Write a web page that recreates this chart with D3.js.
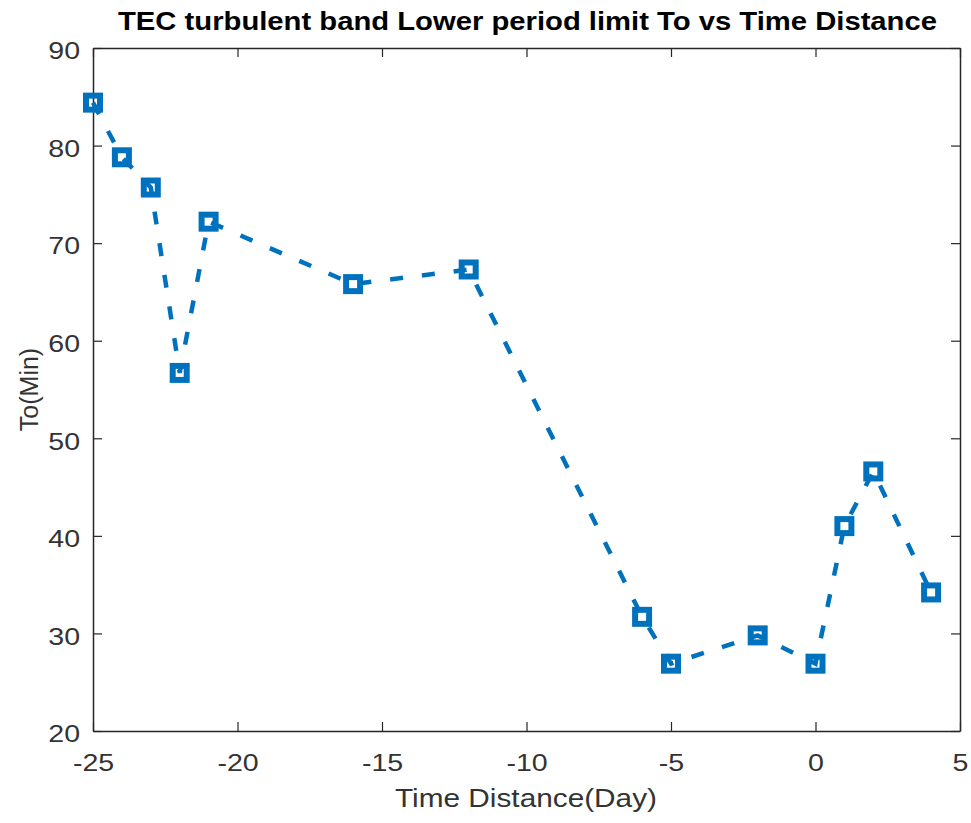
<!DOCTYPE html>
<html>
<head>
<meta charset="utf-8">
<script src="https://cdn.jsdelivr.net/npm/d3@7"></script>
<style>
  body { margin: 0; background: #fff; }
  text { font-family: "Liberation Sans", Arial, sans-serif; }
</style>
</head>
<body>
<div id="chart"></div>
<script>
var days = [-25, -24, -23, -22, -21, -16, -12, -6, -5, -2, 0, 1, 2, 4];
var toMin = [84.4, 78.8, 75.7, 56.7, 72.2, 65.8, 67.3, 31.7, 26.9, 29.8, 26.9, 41.0, 46.6, 34.2];
var xTicks = [-25, -20, -15, -10, -5, 0, 5];
var yTicks = [20, 30, 40, 50, 60, 70, 80, 90];

var margin = { top: 48, right: 11, bottom: 92, left: 93 },
  width = 971 - margin.left - margin.right,
  height = 823 - margin.top - margin.bottom;

// text in the reference is a bit wider than the font
var stretch = 1.19;

var svg = d3
  .select("#chart")
  .append("svg")
  .attr("width", 971)
  .attr("height", 823);

var g = svg
  .append("g")
  .attr("transform", "translate(" + margin.left + "," + margin.top + ")");

var x = d3.scaleLinear().domain([-25, 5]).range([0, width]);
var y = d3.scaleLinear().domain([20, 90]).range([height, 0]);

var axisColor = "#262626";
var fmt = (d) => String(d);

// ticks on all four sides, pointing inward
var xb = g
  .append("g")
  .attr("transform", "translate(0," + height + ")")
  .call(d3.axisBottom(x).tickValues(xTicks).tickSizeInner(-9).tickSizeOuter(0).tickPadding(23).tickFormat(fmt));
var xt = g
  .append("g")
  .call(d3.axisTop(x).tickValues(xTicks).tickSizeInner(-9).tickSizeOuter(0).tickFormat(""));
var yl = g
  .append("g")
  .call(d3.axisLeft(y).tickValues(yTicks).tickSizeInner(-9).tickSizeOuter(0).tickFormat(fmt));
var yr = g
  .append("g")
  .attr("transform", "translate(" + width + ",0)")
  .call(d3.axisRight(y).tickValues(yTicks).tickSizeInner(-9).tickSizeOuter(0).tickFormat(""));

[xb, xt, yl, yr].forEach(function (a) {
  a.select(".domain").attr("stroke", axisColor).attr("stroke-width", 1.5);
  a.selectAll(".tick line").attr("stroke", axisColor).attr("stroke-width", 1.2);
  a.selectAll(".tick text")
    .attr("fill", "#333")
    .attr("transform", "scale(" + stretch + ",1)")
    .style("font-size", "24px")
    .style("font-family", "'Liberation Sans', Arial, sans-serif");
});
yl.selectAll(".tick text")
  .attr("x", -13 / stretch)
  .attr("dy", "0.45em");

var line = d3
  .line()
  .x(function (d, i) { return x(days[i]); })
  .y(function (d) { return y(d); });

g.append("path")
  .datum(toMin)
  .attr("fill", "none")
  .attr("stroke", "#0072BD")
  .attr("stroke-width", 4.5)
  .attr("stroke-dasharray", "13,19")
  .attr("d", line);

var ms = 14;
g.selectAll("rect.marker")
  .data(toMin)
  .enter()
  .append("rect")
  .attr("class", "marker")
  .attr("x", function (d, i) { return x(days[i]) - ms / 2; })
  .attr("y", function (d) { return y(d) - ms / 2; })
  .attr("width", ms)
  .attr("height", ms)
  .attr("fill", "none")
  .attr("stroke", "#0072BD")
  .attr("stroke-width", 6);

svg
  .append("text")
  .attr("x", 118)
  .attr("y", 30)
  .attr("textLength", 819)
  .attr("lengthAdjust", "spacingAndGlyphs")
  .style("font-size", "25px")
  .style("font-weight", "bold")
  .style("fill", "#000")
  .text("TEC turbulent band Lower period limit To vs Time Distance");

svg
  .append("text")
  .attr("x", 395)
  .attr("y", 807)
  .attr("textLength", 262)
  .attr("lengthAdjust", "spacingAndGlyphs")
  .style("font-size", "25px")
  .style("fill", "#333")
  .text("Time Distance(Day)");

svg
  .append("text")
  .attr("transform", "translate(38," + (margin.top + height / 2) + ") rotate(-90)")
  .attr("text-anchor", "middle")
  .style("font-size", "25px")
  .style("fill", "#333")
  .text("To(Min)");
</script>
</body>
</html>
